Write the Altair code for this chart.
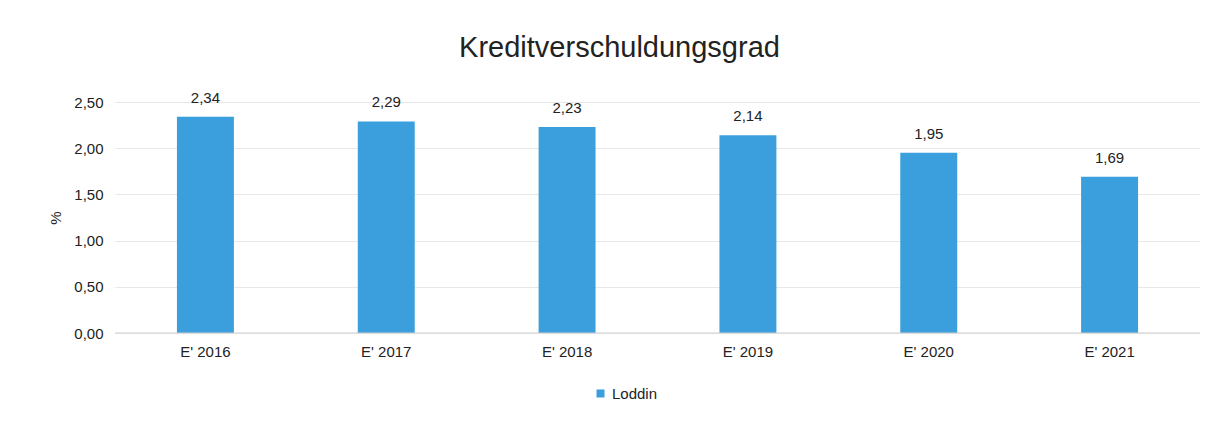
import altair as alt
import pandas as pd

categories = ["E' 2016", "E' 2017", "E' 2018", "E' 2019", "E' 2020", "E' 2021"]
values = [2.34, 2.29, 2.23, 2.14, 1.95, 1.69]
series = ["Loddin"] * len(categories)

df = pd.DataFrame({"Jahr": categories, "Wert": values, "Serie": series})
df["Label"] = [f"{v:.2f}".replace(".", ",") for v in values]

FONT = "Liberation Sans"
BLUE = "#3A9FDC"
TXT = "#222222"

base = alt.Chart(df)

bars = base.mark_bar(color=BLUE).encode(
    x=alt.X("Jahr:N", sort=categories, title=None,
            scale=alt.Scale(paddingInner=0.685, paddingOuter=0.3425),
            axis=alt.Axis(labelAngle=0, labelFontSize=15, labelColor=TXT, grid=False,
                          labelFont=FONT, ticks=False, domain=False, labelPadding=11)),
    y=alt.Y("Wert:Q", title="%", scale=alt.Scale(domain=[0, 2.5], nice=False),
            axis=alt.Axis(values=[0, 0.5, 1, 1.5, 2, 2.5], grid=True,
                          labelExpr="replace(format(datum.value, '.2f'), '.', ',')",
                          labelFontSize=15, labelColor=TXT, labelFont=FONT,
                          ticks=False, domain=False, labelPadding=12,
                          titleFont=FONT, titleFontSize=15, titleFontWeight="normal",
                          titleColor=TXT, titlePadding=10,
                          gridColor="#e8e8e8")),
    fill=alt.Fill("Serie:N", scale=alt.Scale(range=[BLUE]),
                  legend=alt.Legend(title=None, orient="none", legendX=478, legendY=284,
                                    symbolType="square", symbolSize=64,
                                    labelFont=FONT, labelFontSize=15, labelColor=TXT)),
)

text = base.mark_text(baseline="bottom", dy=-11, fontSize=15, font=FONT, color=TXT).encode(
    x=alt.X("Jahr:N", sort=categories),
    y="Wert:Q",
    text="Label:N",
)

zero = alt.Chart(pd.DataFrame({"y": [0]})).mark_rule(color="#cfcfcf").encode(y="y:Q")

chart = (bars + text + zero).properties(
    width=1085, height=231,
    autosize=alt.AutoSizeParams(type="none"),
    padding={"left": 107, "top": 94, "right": 18, "bottom": 84},
    title=alt.TitleParams("Kreditverschuldungsgrad", fontSize=29, font=FONT,
                          fontWeight="normal", color=TXT, anchor="middle",
                          dx=-38, offset=28),
).configure_view(stroke=None)

chart.save("out.html", embed_options={"renderer": "svg", "actions": False})
